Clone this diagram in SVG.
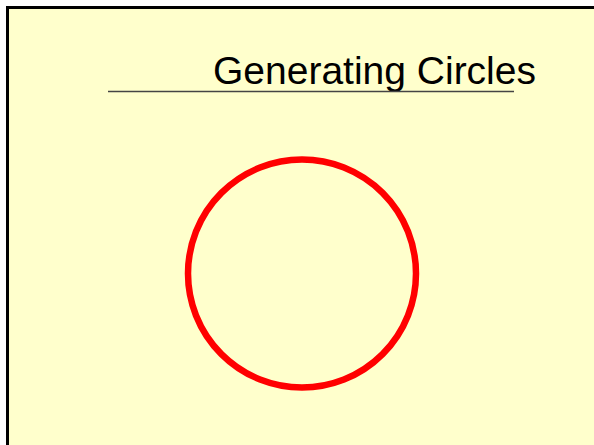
<svg xmlns="http://www.w3.org/2000/svg" width="594" height="445" viewBox="0 0 594 445">
<style>
.title{font-family:"Liberation Sans",Arial,sans-serif;font-size:39px;fill:#000}
</style>
<rect width="594" height="445" fill="#fff"/>
<rect id="slide" x="7.5" y="7.5" width="600" height="450" fill="#ffffcc" stroke="#000" stroke-width="3"/>
<g id="title">
<text class="title" x="213" y="84">Generating Circles</text>
<line x1="108" y1="91.5" x2="514" y2="91.5" stroke="#444" stroke-width="1.5"/>
</g>
<g id="circle">
<circle cx="302" cy="273.5" r="114" fill="none" stroke="#ff0000" stroke-width="6.5"/>
</g>
</svg>
